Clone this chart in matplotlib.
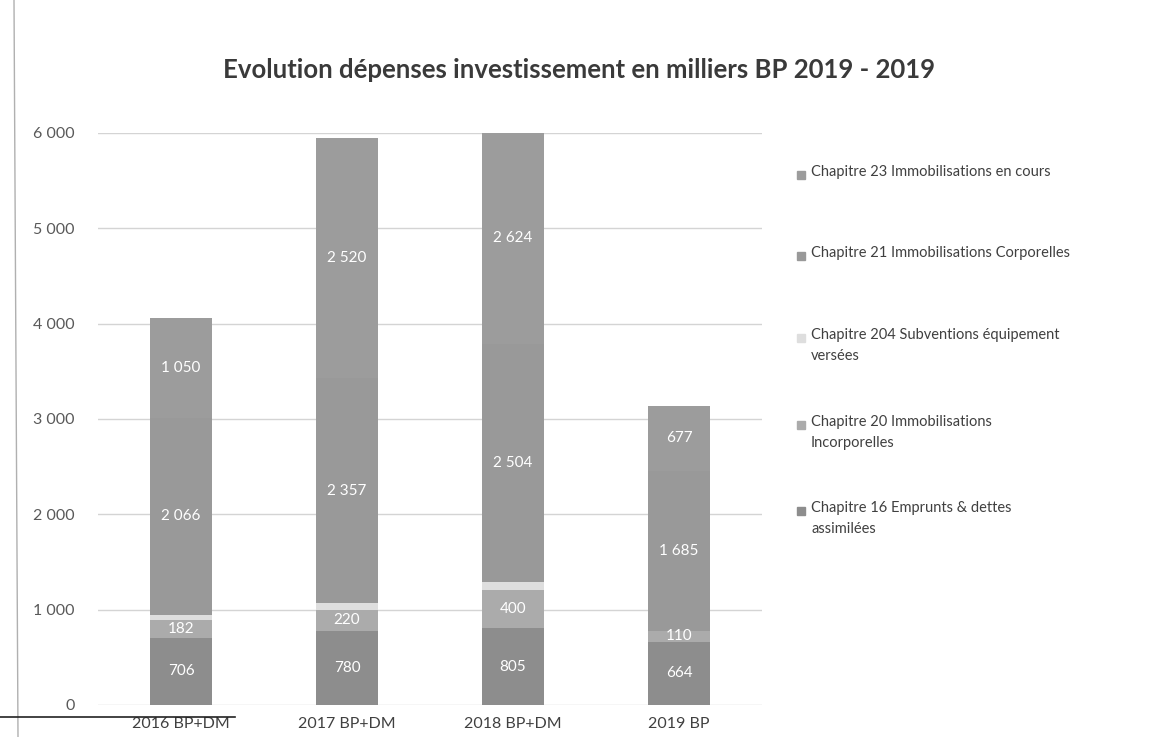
import matplotlib.pyplot as plt
from matplotlib.patches import Rectangle
from matplotlib.lines import Line2D

years = ["2016 BP+DM", "2017 BP+DM", "2018 BP+DM", "2019 BP"]

# spending per chapter, in thousands (stack order from bottom)
ch16 = [706, 780, 805, 664]
ch20 = [182, 220, 400, 110]
ch204 = [60, 70, 80, 0]
ch21 = [2066, 2357, 2504, 1685]
ch23 = [1050, 2520, 2624, 677]

series = [
    ("Chapitre 16 Emprunts & dettes\nassimilées", ch16, "#8d8d8d"),
    ("Chapitre 20 Immobilisations\nIncorporelles", ch20, "#ababab"),
    ("Chapitre 204 Subventions équipement\nversées", ch204, "#dedede"),
    ("Chapitre 21 Immobilisations Corporelles", ch21, "#999999"),
    ("Chapitre 23 Immobilisations en cours", ch23, "#9c9c9c"),
]
labelled = {0, 1, 3, 4}

plt.rcParams["font.family"] = ["Lato", "DejaVu Sans"]

fig = plt.figure(figsize=(11.64, 7.37), dpi=100)
ax = fig.add_axes([98 / 1164, 1 - 705 / 737, 664 / 1164, (705 - 133) / 737])

x = range(len(years))
bottom = [0] * len(years)
for i, (name, vals, color) in enumerate(series):
    bars = ax.bar(x, vals, width=0.37, bottom=bottom, color=color, zorder=2)
    if i in labelled:
        ax.bar_label(bars, labels=[f"{v:,}".replace(",", " ") for v in vals],
                     label_type="center", color="white", fontsize=11)
    bottom = [b + v for b, v in zip(bottom, vals)]

ax.set_xlim(-0.5, 3.5)
ax.set_ylim(0, 6000)
ax.set_yticks(range(0, 6001, 1000))
ax.set_yticklabels([f"{v:,}".replace(",", " ") for v in range(0, 6001, 1000)])
ax.set_xticks(list(x))
ax.set_xticklabels(years)
ax.tick_params(axis="y", length=0, pad=17, labelsize=11.5, labelcolor="#595959")
ax.tick_params(axis="x", length=0, pad=9, labelsize=11.5, labelcolor="#404040")
ax.grid(axis="y", color="#d4d4d4", linewidth=1, zorder=0)
for s in ax.spines.values():
    s.set_visible(False)

fig.text(579 / 1164, 1 - 70 / 737, "Evolution dépenses investissement en milliers BP 2019 - 2019",
         ha="center", va="center", fontsize=18.5, fontweight="bold", color="#3a3a3a")

# legend, top entry first
leg_y = [175, 256, 338, 425, 511]
for (name, vals, color), y in zip(reversed(series), leg_y):
    fig.patches.append(Rectangle((797 / 1164, 1 - (y + 4) / 737), 8 / 1164, 8 / 737,
                                 transform=fig.transFigure, color=color))
    fig.text(811 / 1164, 1 - (y - 10) / 737, name, ha="left", va="top", fontsize=10.5,
             color="#404040", linespacing=1.6)

# page edge and rule from the printed sheet
fig.add_artist(Line2D([14 / 1164, 18 / 1164], [1.0, 0.0], color="#b0b0b0", linewidth=1))
fig.add_artist(Line2D([0, 235 / 1164], [1 - 717 / 737] * 2, color="#222222", linewidth=1.2))

fig.savefig("out.png", dpi=100)
